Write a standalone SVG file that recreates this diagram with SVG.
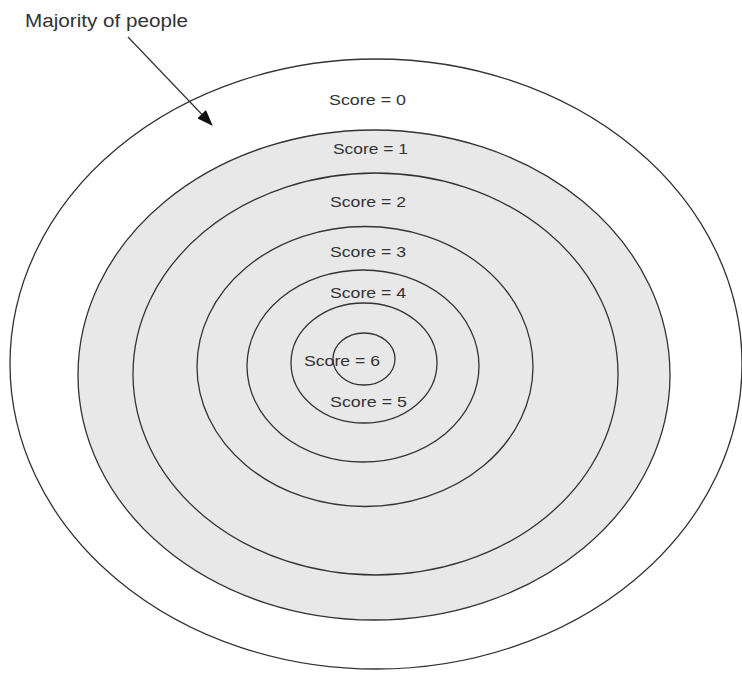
<svg xmlns="http://www.w3.org/2000/svg" width="742" height="673" viewBox="0 0 742 673">
<style>
.ring{stroke:#333;stroke-width:1.3}
.w{fill:#fff}
.g{fill:#e8e8e8}
text{font-family:"Liberation Sans",Arial,sans-serif;font-size:15px;fill:#333}
</style>
<defs>
<marker id="ah" markerWidth="16" markerHeight="12" refX="15" refY="6" orient="auto" markerUnits="userSpaceOnUse">
<path d="M0,0 L16,6 L0,12 Z" fill="#111"/>
</marker>
</defs>
<rect width="742" height="673" fill="#fff"/>
<g id="ring0"><ellipse class="ring w" cx="376" cy="364" rx="366" ry="305"/><text x="329" y="105" textLength="77" lengthAdjust="spacingAndGlyphs">Score = 0</text></g>
<g id="ring1"><ellipse class="ring g" cx="374" cy="375" rx="296" ry="245"/><text x="333" y="154" textLength="75" lengthAdjust="spacingAndGlyphs">Score = 1</text></g>
<g id="ring2"><ellipse class="ring g" cx="375.5" cy="374" rx="242.5" ry="201"/><text x="330" y="207" textLength="76" lengthAdjust="spacingAndGlyphs">Score = 2</text></g>
<g id="ring3"><ellipse class="ring g" cx="365" cy="366.5" rx="168" ry="140"/><text x="330" y="257" textLength="76" lengthAdjust="spacingAndGlyphs">Score = 3</text></g>
<g id="ring4"><ellipse class="ring g" cx="363" cy="366" rx="116" ry="96"/><text x="330" y="298" textLength="76" lengthAdjust="spacingAndGlyphs">Score = 4</text></g>
<g id="ring5"><ellipse class="ring g" cx="364" cy="363" rx="73" ry="60"/><text x="330" y="407" textLength="77" lengthAdjust="spacingAndGlyphs">Score = 5</text></g>
<g id="ring6"><ellipse class="ring g" cx="364" cy="359" rx="31" ry="26"/><text x="304" y="366" textLength="76" lengthAdjust="spacingAndGlyphs">Score = 6</text></g>
<g id="label"><text x="25" y="27" style="font-size:18px" textLength="163" lengthAdjust="spacingAndGlyphs">Majority of people</text></g>
<g id="connectors"><line x1="128" y1="37" x2="212" y2="125" stroke="#333" stroke-width="1.2" marker-end="url(#ah)"/></g>
</svg>
